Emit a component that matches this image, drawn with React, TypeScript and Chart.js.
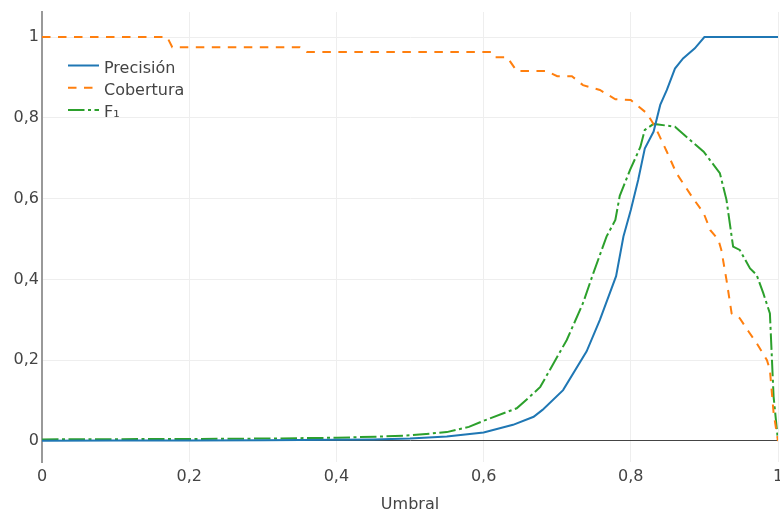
import React, { useEffect, useRef } from "react";
import { Chart, registerables } from "chart.js";

Chart.register(...registerables);

// Precision
const precX = [0, 0.1, 0.2, 0.3, 0.4, 0.45, 0.5, 0.55, 0.6, 0.64, 0.668, 0.68, 0.708, 0.74, 0.758, 0.78, 0.79, 0.8, 0.81, 0.819, 0.831, 0.84, 0.849, 0.86, 0.871, 0.887, 0.9, 1.0];
const precY = [0.0005, 0.001, 0.0015, 0.002, 0.003, 0.004, 0.006, 0.011, 0.021, 0.04, 0.06, 0.077, 0.126, 0.222, 0.3, 0.408, 0.506, 0.572, 0.646, 0.724, 0.766, 0.832, 0.869, 0.922, 0.947, 0.972, 1, 1];

// Recall
const recX = [0, 0.17, 0.177, 0.35, 0.36, 0.61, 0.615, 0.632, 0.645, 0.685, 0.7, 0.72, 0.735, 0.758, 0.779, 0.8, 0.822, 0.833, 0.849, 0.862, 0.883, 0.899, 0.908, 0.919, 0.923, 0.93, 0.937, 0.948, 0.96, 0.971, 0.985, 0.989, 0.994, 1.0];
const recY = [1, 1, 0.975, 0.975, 0.963, 0.963, 0.95, 0.95, 0.916, 0.916, 0.903, 0.903, 0.881, 0.869, 0.846, 0.844, 0.811, 0.778, 0.716, 0.663, 0.605, 0.564, 0.522, 0.498, 0.473, 0.399, 0.316, 0.304, 0.271, 0.242, 0.2, 0.176, 0.07, 0];

// F1
const f1X = [0, 0.2, 0.3, 0.4, 0.46, 0.5, 0.55, 0.58, 0.6, 0.645, 0.663, 0.677, 0.69, 0.713, 0.735, 0.749, 0.767, 0.779, 0.785, 0.799, 0.813, 0.819, 0.831, 0.86, 0.899, 0.921, 0.93, 0.939, 0.948, 0.962, 0.971, 0.98, 0.989, 0.994, 1.0];
const f1Y = [0.004, 0.005, 0.006, 0.008, 0.011, 0.014, 0.022, 0.035, 0.05, 0.081, 0.11, 0.134, 0.176, 0.25, 0.341, 0.415, 0.506, 0.547, 0.607, 0.671, 0.728, 0.77, 0.785, 0.778, 0.716, 0.663, 0.597, 0.481, 0.473, 0.427, 0.411, 0.366, 0.316, 0.11, 0];

const seriesNames = ["Precisión", "Cobertura", "F\u2081"];
const seriesColors = ["#1f77b4", "#ff7f0e", "#2ca02c"];
const seriesDashes = [[], [8.5, 7.5], [16.5, 3.5, 3, 3.5]];
const yTicks = [0, 0.2, 0.4, 0.6, 0.8, 1];
const xTitle = "Umbral";

const FONT = "'DejaVu Sans', sans-serif";
const TEXT = "#444";

const fmt = (v: number) => String(Number(v.toFixed(2))).replace(".", ",");

const zip = (xs: number[], ys: number[]) => xs.map((x, i) => ({ x, y: ys[i] }));

const legendPlugin = {
  id: "inLegend",
  afterDraw(chart: any) {
    const ctx = chart.ctx;
    ctx.save();
    seriesNames.forEach((name, i) => {
      const ly = 65.5 + i * 22.2;
      ctx.beginPath();
      ctx.strokeStyle = seriesColors[i];
      ctx.lineWidth = 2;
      ctx.setLineDash(seriesDashes[i]);
      ctx.moveTo(68, ly);
      ctx.lineTo(99, ly);
      ctx.stroke();
      ctx.setLineDash([]);
      ctx.fillStyle = TEXT;
      ctx.font = `16px ${FONT}`;
      ctx.textBaseline = "alphabetic";
      ctx.textAlign = "left";
      ctx.fillText(name, 104, ly + 7.2);
    });
    ctx.restore();
  },
};

export default function App() {
  const ref = useRef<HTMLCanvasElement>(null);
  useEffect(() => {
    document.body.style.margin = "0";
    const datasets = [
      zip(precX, precY),
      zip(recX, recY),
      zip(f1X, f1Y),
    ].map((data, i) => ({
      label: seriesNames[i],
      data,
      borderColor: seriesColors[i],
      backgroundColor: seriesColors[i],
      borderWidth: 2,
      borderDash: seriesDashes[i],
      pointRadius: 0,
      tension: 0,
      fill: false,
    }));
    const chart = new Chart(ref.current!, {
      type: "line",
      data: { datasets },
      plugins: [legendPlugin],
      options: {
        animation: false,
        responsive: false,
        layout: { padding: { top: 12, right: 2, left: 0, bottom: 0 } },
        plugins: { legend: { display: false }, tooltip: { enabled: false } },
        scales: {
          x: {
            type: "linear",
            min: 0,
            max: 1,
            ticks: {
              stepSize: 0.2,
              padding: 5,
              color: TEXT,
              font: { family: FONT, size: 16 },
              callback: (v: any) => fmt(Number(v)),
              maxRotation: 0,
            },
            grid: { color: "#eee", drawTicks: false, lineWidth: 1 },
            border: { display: false },
            title: {
              display: true,
              text: xTitle,
              color: TEXT,
              font: { family: FONT, size: 16, lineHeight: 1 },
              padding: { top: 0, bottom: -2 },
            },
            afterFit: (s: any) => {
              s.height = 49;
              s.paddingLeft = 0;
              s.paddingRight = 0;
            },
          },
          y: {
            type: "linear",
            min: -0.052,
            max: 1.062,
            afterBuildTicks: (s: any) => {
              s.ticks = yTicks.map((v) => ({ value: v }));
            },
            ticks: {
              padding: 3,
              color: TEXT,
              font: { family: FONT, size: 16 },
              callback: (v: any) => fmt(Number(v)),
            },
            grid: {
              color: (c: any) => (c.tick && c.tick.value === 0 ? "#444" : "#eee"),
              drawTicks: false,
              lineWidth: 1,
            },
            border: { display: true, color: "#999", width: 2 },
            afterFit: (s: any) => {
              s.width = 42;
              s.paddingTop = 0;
              s.paddingBottom = 0;
            },
          },
        },
      },
    });
    return () => chart.destroy();
  }, []);
  return (
    <div style={{ position: "fixed", left: 0, top: 0, width: 780, height: 511, background: "#fff" }}>
      <canvas ref={ref} width={780} height={511} style={{ width: 780, height: 511 }} />
    </div>
  );
}
